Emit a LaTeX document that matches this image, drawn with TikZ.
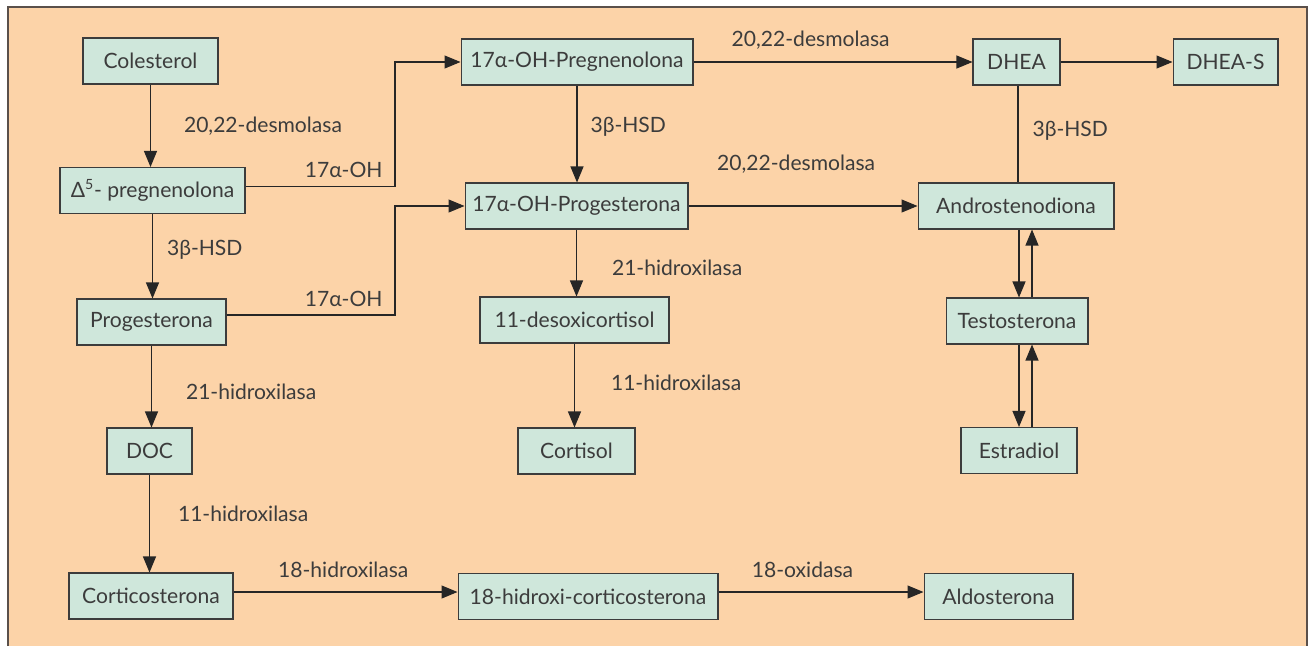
\documentclass[tikz,border=0pt]{standalone}
\usepackage{fontspec}
\setmainfont{Lato}
\usepackage{tikz}
\usetikzlibrary{arrows.meta}
\usetikzlibrary{positioning}
\definecolor{peach}{RGB}{252,211,168}
\definecolor{mint}{RGB}{207,231,219}
\definecolor{ink}{RGB}{60,60,60}
\definecolor{framecol}{RGB}{90,80,75}

\begin{document}
\begin{tikzpicture}[x=0.02cm,y=-0.02cm,
    box/.style={draw=ink, fill=mint, line width=0.6pt, minimum height=0.92cm,
      inner sep=0pt, text=ink, font=\fontsize{12}{14}\selectfont},
    lbl/.style={inner sep=0pt, text=ink, font=\fontsize{12}{14}\selectfont},
    ln/.style={draw=black!85, line width=0.6pt},
    arr/.style={ln, -{Triangle[length=0.32cm,width=0.26cm]}}]
        \useasboundingbox (0,0) rectangle (1311,646);
        \fill[peach] (8,7) rectangle (1307,646);
        \draw[framecol, line width=1pt] (8,646) -- (8,7) -- (1307,7) -- (1307,646);

        \node[box, minimum width=2.7cm] (chol) at (150.5,61) {Colesterol};
        \node[box, minimum width=3.7cm] (preg) at (152.5,190.5) {Δ\textsuperscript{5}- pregnenolona};
        \node[box, minimum width=2.98cm] (prog) at (151.5,322) {Progesterona};
        \node[box, minimum width=1.7cm] (doc) at (149.5,451) {DOC};
        \node[box, minimum width=3.28cm] (cort) at (151,596) {Corticosterona};
        \node[box, minimum width=4.64cm] (ohpreg) at (577,62) {17α-OH-Pregnenolona};
        \node[box, minimum width=4.46cm] (ohprog) at (576.5,206) {17α-OH-Progesterona};
        \node[box, minimum width=3.78cm] (desoxi) at (574.5,320) {11-desoxicortisol};
        \node[box, minimum width=2.34cm] (cortisol) at (576.5,451) {Cortisol};
        \node[box, minimum width=5.2cm] (hcort) at (588,596.5) {18-hidroxi-corticosterona};
        \node[box, minimum width=2.98cm] (aldo) at (998.5,596.5) {Aldosterona};
        \node[box, minimum width=1.74cm] (dhea) at (1016.5,62) {DHEA};
        \node[box, minimum width=2.1cm] (dheas) at (1225.5,62) {DHEA-S};
        \node[box, minimum width=3.92cm] (andro) at (1016,206) {Androstenodiona};
        \node[box, minimum width=2.84cm] (testo) at (1017,321) {Testosterona};
        \node[box, minimum width=2.32cm] (estra) at (1019,450.5) {Estradiol};
        \coordinate (kink) at (395,0);

        \draw[arr] (chol.south) -- node[lbl, pos=0.5, right=0.66cm] {20,22-desmolasa} (chol.south |- preg.north);
        \draw[arr] (preg.south) -- node[lbl, pos=0.42, right=0.28cm] {3β-HSD} (preg.south |- prog.north);
        \draw[arr] (prog.south) -- node[lbl, pos=0.57, right=0.68cm] {21-hidroxilasa} (prog.south |- doc.north);
        \draw[arr] (doc.south) -- node[lbl, pos=0.4, right=0.56cm] {11-hidroxilasa} (doc.south |- cort.north);
        \draw[arr] ([yshift=0.08cm]cort.east) -- node[lbl, pos=0.49, above=0.28cm] {18-hidroxilasa} ([yshift=0.08cm]cort.east -| hcort.west);
        \draw[arr] ([yshift=0.09cm]hcort.east) -- node[lbl, pos=0.41, above=0.28cm] {18-oxidasa} ([yshift=0.09cm]hcort.east -| aldo.west);

        \draw[arr] ([yshift=0.08cm]preg.east) -- node[lbl, pos=1, anchor=south east, xshift=-0.24cm, yshift=0.16cm] {17α-OH}
          ([yshift=0.08cm]preg.east -| kink) |- (ohpreg.west);
        \draw[arr] ([yshift=0.14cm]prog.east) -- node[lbl, pos=1, anchor=south east, xshift=-0.24cm, yshift=0.16cm] {17α-OH}
          ([yshift=0.14cm]prog.east -| kink) |- (ohprog.west);

        \draw[arr] (ohpreg.south) -- node[lbl, pos=0.43, right=0.26cm] {3β-HSD} (ohpreg.south |- ohprog.north);
        \draw[arr] (ohprog.south) -- node[lbl, pos=0.57, right=0.7cm] {21-hidroxilasa} (ohprog.south |- desoxi.north);
        \draw[arr] (desoxi.south) -- node[lbl, pos=0.47, right=0.72cm] {11-hidroxilasa} (desoxi.south |- cortisol.north);
        \draw[arr] (ohpreg.east) -- node[lbl, pos=0.42, above=0.24cm] {20,22-desmolasa} (dhea.west);
        \draw[arr] (ohprog.east) -- node[lbl, pos=0.47, above=0.64cm] {20,22-desmolasa} (andro.west);
        \draw[arr] (dhea.east) -- (dheas.west);
        \draw[ln] ([xshift=0.03cm]dhea.south) -- node[lbl, pos=0.47, right=0.28cm] {3β-HSD} ([xshift=0.03cm]dhea.south |- andro.north);

        \draw[arr] ([xshift=0.06cm]andro.south) -- ([xshift=0.06cm]andro.south |- testo.north);
        \draw[arr] ([xshift=0.32cm]andro.south |- testo.north) -- ([xshift=0.32cm]andro.south);
        \draw[arr] ([xshift=0.04cm]testo.south) -- ([xshift=0.04cm]testo.south |- estra.north);
        \draw[arr] ([xshift=0.3cm]testo.south |- estra.north) -- ([xshift=0.3cm]testo.south);
\end{tikzpicture}
\end{document}
